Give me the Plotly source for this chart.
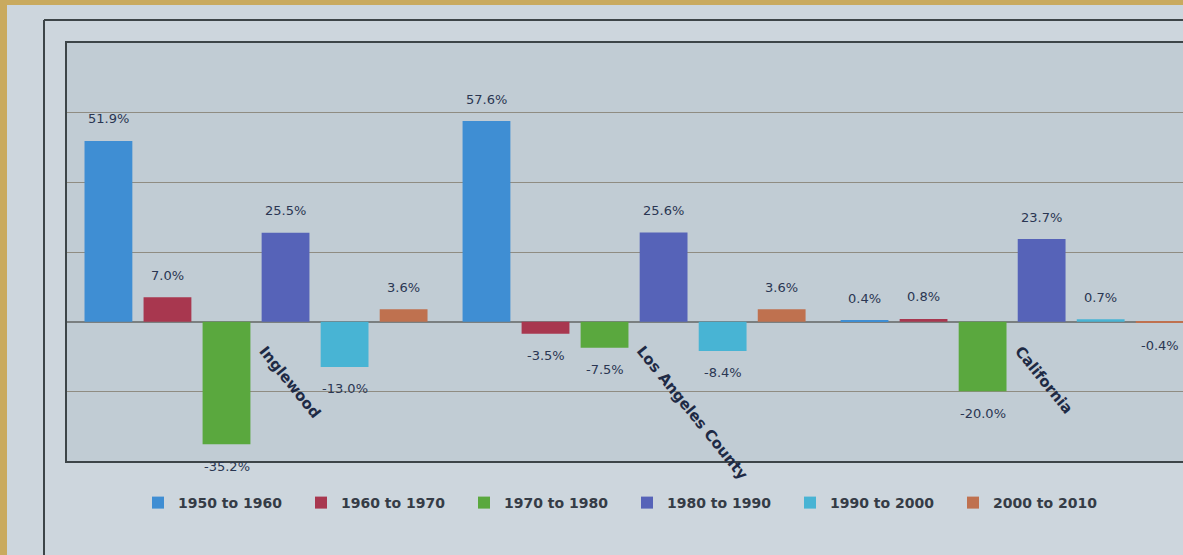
import plotly.graph_objects as go

categories = ["Inglewood", "Los Angeles County", "California"]
series_names = ["1950 to 1960", "1960 to 1970", "1970 to 1980",
                "1980 to 1990", "1990 to 2000", "2000 to 2010"]
v_1950_1960 = [51.9, 57.6, 0.4]
v_1960_1970 = [7.0, -3.5, 0.8]
v_1970_1980 = [-35.2, -7.5, -20.0]
v_1980_1990 = [25.5, 25.6, 23.7]
v_1990_2000 = [-13.0, -8.4, 0.7]
v_2000_2010 = [3.6, 3.6, -0.4]
series_values = [v_1950_1960, v_1960_1970, v_1970_1980,
                 v_1980_1990, v_1990_2000, v_2000_2010]
colors = ["#3f8ed3", "#a8374f", "#5aa83e", "#5663b8", "#48b4d4", "#bf714f"]

W, H = 1183, 555
ML, MT, MB, MR = 67, 43, 94, 0
PW, PH = W - ML - MR, H - MT - MB
BARGAP = 0.063


def px(x):
    return (x - ML) / PW


def py(y):
    return (H - MB - y) / PH


fig = go.Figure()
xs = list(range(len(categories)))
nser = len(series_names)
slot = (1 - BARGAP) / nser
for k, (name, vals, col) in enumerate(zip(series_names, series_values, colors)):
    fig.add_trace(go.Bar(
        x=xs, y=vals, name=name, marker=dict(color=col, line=dict(width=0)),
        cliponaxis=False,
    ))
    for i, v in zip(xs, vals):
        fig.add_annotation(
            x=i + (k - (nser - 1) / 2) * slot, y=v, xref="x", yref="y",
            text=f"{v:.1f}%", showarrow=False, xanchor="center", yanchor="middle",
            yshift=22 if v >= 0 else -22,
            font=dict(family="DejaVu Sans", size=13, color="#2a3652"))

for i, c in enumerate(categories):
    fig.add_annotation(x=i, y=0, xref="x", yref="y", text=c, showarrow=False,
                       textangle=51, xanchor="left", yanchor="top",
                       xshift=-4, yshift=-18,
                       font=dict(family="DejaVu Sans", size=15, color="#1e2a45",
                                 weight="bold"))

shapes = [
    dict(type="rect", xref="paper", yref="paper", x0=px(0), x1=px(7), y0=py(H), y1=py(0),
         fillcolor="#c9aa5e", line=dict(width=0), layer="below"),
    dict(type="rect", xref="paper", yref="paper", x0=px(0), x1=px(W), y0=py(5), y1=py(0),
         fillcolor="#c9aa5e", line=dict(width=0), layer="below"),
    dict(type="line", xref="paper", yref="paper", x0=px(44), x1=px(44), y0=py(H), y1=py(20),
         line=dict(color="#3d4548", width=2)),
    dict(type="line", xref="paper", yref="paper", x0=px(44), x1=px(W), y0=py(20), y1=py(20),
         line=dict(color="#3d4548", width=2)),
]

fig.update_layout(
    width=W, height=H,
    margin=dict(l=ML, r=MR, t=MT, b=MB),
    paper_bgcolor="#cdd6dd", plot_bgcolor="#c1ccd4",
    barmode="group", bargap=BARGAP, bargroupgap=0.19,
    showlegend=True,
    legend=dict(orientation="h", x=px(138), y=py(503), xanchor="left", yanchor="middle",
                entrywidth=118, bgcolor="rgba(0,0,0,0)",
                font=dict(family="DejaVu Sans", size=14, color="#353c46", weight="bold")),
    xaxis=dict(range=[-0.5, 2.452], showticklabels=False, ticks="", showgrid=False,
               zeroline=False, showline=True, mirror=True, linecolor="#3d4548", linewidth=2,
               fixedrange=True),
    yaxis=dict(range=[-40, 80], dtick=20, showticklabels=False, ticks="",
               showgrid=True, gridcolor="#8f8c82", gridwidth=1,
               zeroline=True, zerolinecolor="#7a7f80", zerolinewidth=1.5,
               showline=True, linecolor="#3d4548", linewidth=2, fixedrange=True),
    shapes=shapes,
)

fig.write_html("out.html", config={"displayModeBar": False},
               post_script="document.body.style.margin='0px';document.body.style.overflow='hidden';")
